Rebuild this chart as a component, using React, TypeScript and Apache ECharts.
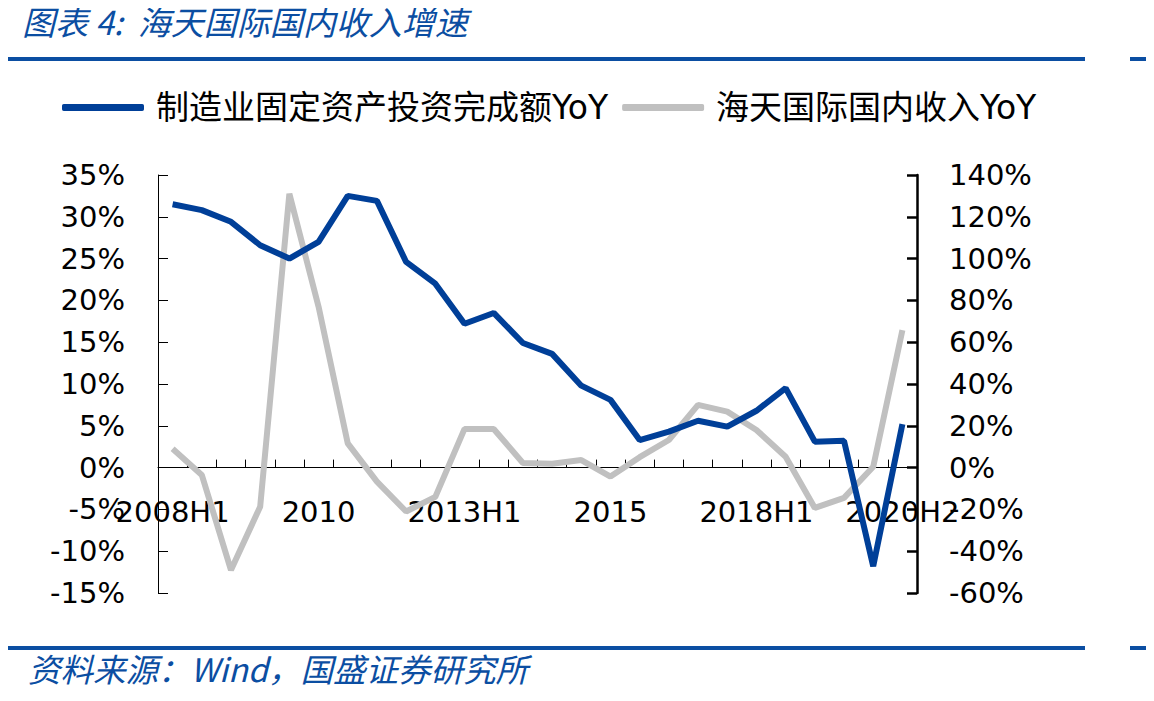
import React, { useEffect, useRef } from "react";
import * as echarts from "echarts";

const categories = [
  "2008H1", "2008H2", "2009H1", "2009H2", "2010H1", "2010",
  "2011H1", "2011H2", "2012H1", "2012H2", "2013H1", "2013H2",
  "2014H1", "2014H2", "2015H1", "2015", "2016H1", "2016H2",
  "2017H1", "2017H2", "2018H1", "2018H2", "2019H1", "2019H2",
  "2020H1", "2020H2",
];

// 制造业固定资产投资完成额YoY (%), left axis
const mfgInvest = [
  31.5, 30.8, 29.4, 26.6, 25.0, 27.0, 32.5, 31.9, 24.6, 22.0,
  17.2, 18.5, 14.9, 13.6, 9.8, 8.1, 3.3, 4.3, 5.6, 4.9,
  6.8, 9.5, 3.1, 3.2, -11.8, 5.2,
];

// 海天国际国内收入YoY (%), right axis
const haitianDomestic = [
  9.0, -3.5, -49, -18.7, 131, 77, 11.6, -6.7, -21, -14,
  18.5, 18.5, 2.2, 1.8, 3.6, -4.3, 5.0, 13.2, 30, 26.8,
  18, 5.2, -19.3, -14.5, 0.4, 65.8,
];

const leftTicks = { min: -15, max: 35, interval: 5 };
const rightTicks = { min: -60, max: 140, interval: 20 };

const BLUE = "#003f98";
const GRAY = "#c0c0c0";
const BRAND = "#0b4ea2";
const AXIS_FONT = "DejaVu Sans";
const CJK_FONT = "'DejaVu Sans', 'Noto Sans CJK SC'";

const GRID_TOP = 175;
const GRID_BOTTOM_PX = 593;

export default function App() {
  const ref = useRef<HTMLDivElement>(null);

  useEffect(() => {
    if (!ref.current) return;
    const chart = echarts.init(ref.current, undefined, { renderer: "svg" });
    const zeroFrac = leftTicks.max / (leftTicks.max - leftTicks.min);
    const zeroY = GRID_TOP + (GRID_BOTTOM_PX - GRID_TOP) * zeroFrac;
    chart.setOption({
      animation: false,
      backgroundColor: "#ffffff",
      grid: { left: 158, right: 237, top: GRID_TOP, bottom: 701 - GRID_BOTTOM_PX, containLabel: false },
      legend: {
        left: 57,
        top: 86,
        itemWidth: 82,
        itemHeight: 7,
        itemGap: 14,
        icon: "roundRect",
        textStyle: {
          fontFamily: CJK_FONT,
          fontSize: 33,
          color: "#000",
          padding: [0, 0, 0, 7],
        },
        data: [
          { name: "制造业固定资产投资完成额YoY", itemStyle: { color: BLUE } },
          { name: "海天国际国内收入YoY", itemStyle: { color: GRAY } },
        ],
      },
      xAxis: [
        {
          type: "category",
          data: categories,
          boundaryGap: true,
          axisLine: { onZero: true, onZeroAxisIndex: 0, lineStyle: { color: "#000", width: 1 } },
          axisTick: { show: true, inside: true, length: 8, interval: 0, lineStyle: { color: "#000", width: 1 } },
          axisLabel: { show: false },
          splitLine: { show: false },
        },
        {
          type: "category",
          data: categories,
          boundaryGap: true,
          position: "bottom",
          offset: -(GRID_BOTTOM_PX - zeroY),
          axisLine: { show: false, onZero: false },
          axisTick: { show: false },
          axisLabel: {
            interval: 4,
            margin: 30,
            fontFamily: AXIS_FONT,
            fontSize: 29,
            color: "#000",
          },
          splitLine: { show: false },
        },
      ],
      yAxis: [
        {
          type: "value",
          position: "left",
          min: leftTicks.min,
          max: leftTicks.max,
          interval: leftTicks.interval,
          axisLine: { show: true, lineStyle: { color: "#000", width: 1 } },
          axisTick: { show: true, inside: true, length: 10, lineStyle: { color: "#000", width: 1 } },
          axisLabel: {
            margin: 33,
            fontFamily: AXIS_FONT,
            fontSize: 29,
            color: "#000",
            formatter: (v: number) => `${v}%`,
          },
          splitLine: { show: false },
        },
        {
          type: "value",
          position: "right",
          min: rightTicks.min,
          max: rightTicks.max,
          interval: rightTicks.interval,
          axisLine: { show: true, lineStyle: { color: "#000", width: 2.5 } },
          axisTick: { show: true, inside: true, length: 10, lineStyle: { color: "#000", width: 2.5 } },
          axisLabel: {
            margin: 32,
            fontFamily: AXIS_FONT,
            fontSize: 29,
            color: "#000",
            formatter: (v: number) => `${v}%`,
          },
          splitLine: { show: false },
        },
      ],
      series: [
        {
          name: "制造业固定资产投资完成额YoY",
          type: "line",
          xAxisIndex: 0,
          yAxisIndex: 0,
          data: mfgInvest,
          symbol: "none",
          lineStyle: { color: BLUE, width: 6 },
          itemStyle: { color: BLUE },
          z: 3,
        },
        {
          name: "海天国际国内收入YoY",
          type: "line",
          xAxisIndex: 0,
          yAxisIndex: 1,
          data: haitianDomestic,
          symbol: "none",
          lineStyle: { color: GRAY, width: 6 },
          itemStyle: { color: GRAY },
          z: 2,
        },
      ],
      graphic: [
        {
          type: "text",
          left: 22,
          top: 4,
          style: {
            text: "图表 4:  海天国际国内收入增速",
            fontFamily: "'Noto Sans CJK SC'",
            fontStyle: "italic",
            fontSize: 33,
            fill: BRAND,
          },
        },
        { type: "rect", shape: { x: 0, y: 57, width: 1085, height: 4 }, style: { fill: BRAND } },
        { type: "rect", shape: { x: 1130, y: 57, width: 24, height: 4 }, style: { fill: BRAND } },
        { type: "rect", shape: { x: 0, y: 646, width: 1085, height: 4 }, style: { fill: BRAND } },
        { type: "rect", shape: { x: 1130, y: 646, width: 24, height: 4 }, style: { fill: BRAND } },
        {
          type: "text",
          left: 28,
          top: 651,
          style: {
            text: "资料来源：Wind，国盛证券研究所",
            fontFamily: "'Noto Sans CJK SC'",
            fontStyle: "italic",
            fontSize: 32.5,
            fill: BRAND,
          },
        },
      ],
    });
    return () => chart.dispose();
  }, []);

  return <div ref={ref} style={{ width: 1154, height: 701, margin: -8 }} />;
}
